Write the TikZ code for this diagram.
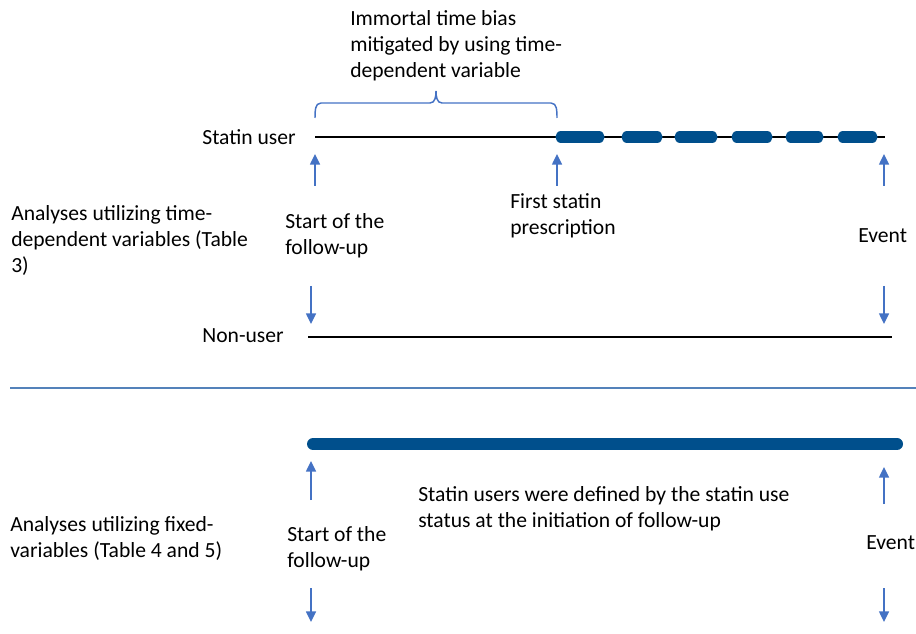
\documentclass[tikz,border=0pt]{standalone}
\usepackage{fontspec}
\setmainfont{Carlito}
\usetikzlibrary{arrows.meta}
\definecolor{barblue}{RGB}{0,79,140}
\definecolor{arrblue}{RGB}{68,114,196}
\definecolor{sepblue}{RGB}{84,130,186}
\begin{document}
\begin{tikzpicture}[x=0.75pt,y=-0.75pt,
  lbl/.style={inner sep=0pt,align=left,font=\fontsize{16.2}{19.5}\selectfont},
  tline/.style={line width=2pt,black},
  dashbar/.style={line width=8.4pt,barblue,line cap=round},
  upar/.style={arrblue,line width=1.1pt,-{Triangle[width=7.5pt,length=8pt]}},
  brc/.style={arrblue,line width=1.1pt}]
\useasboundingbox (0,0) rectangle (916,634);
% top section
\node[lbl,anchor=west] (imm) at (350,46) {Immortal time bias\\mitigated by using time-\\dependent variable};
\node[lbl,anchor=east] (su) at (296,137) {Statin user};
\coordinate (s0) at (315,137);
\coordinate (s1) at (885,137);
\draw[tline] (s0) -- (s1);
\foreach \a/\b in {556/604,622/662,675/717,732/772,786/823,838/877}
  \draw[dashbar] (\a+5,137) -- (\b-5,137);
% brace
\draw[brc] (315,118) to[out=90,in=180] (321,103) -- (430,103) to[out=0,in=-90] (436,91)
  to[out=-90,in=180] (442,103) -- (551,103) to[out=0,in=90] (557,118);
% up arrows
\coordinate (a1s) at (315,186); \coordinate (a1e) at (315,154);
\coordinate (a2s) at (557,186); \coordinate (a2e) at (557,154);
\coordinate (a3s) at (884,186); \coordinate (a3e) at (884,154);
\draw[upar] (a1s) -- (a1e);
\draw[upar] (a2s) -- (a2e);
\draw[upar] (a3s) -- (a3e);
\node[lbl,anchor=west] (sf1) at (285,236) {Start of the\\follow-up};
\node[lbl,anchor=west] (fsp) at (510,216) {First statin\\prescription};
\node[lbl,anchor=west] (ev1) at (858,236) {Event};
\node[lbl,anchor=west] (an1) at (11,240) {Analyses utilizing time-\\dependent variables (Table\\3)};
% down arrows
\coordinate (d1s) at (311,286); \coordinate (d1e) at (311,324);
\coordinate (d2s) at (884,286); \coordinate (d2e) at (884,324);
\draw[upar] (d1s) -- (d1e);
\draw[upar] (d2s) -- (d2e);
\node[lbl,anchor=east] (nu) at (284,336) {Non-user};
\coordinate (n0) at (308,337);
\coordinate (n1) at (892,337);
\draw[tline] (n0) -- (n1);
% separator
\coordinate (sep0) at (10,388);
\coordinate (sep1) at (916,388);
\draw[sepblue,line width=1.6pt] (sep0) -- (sep1);
% bottom section
\coordinate (b0) at (313,444);
\coordinate (b1) at (897,444);
\draw[barblue,line width=9pt,line cap=round] (b0) -- (b1);
\coordinate (u1s) at (311,500); \coordinate (u1e) at (311,461);
\coordinate (u2s) at (884,504); \coordinate (u2e) at (884,467);
\draw[upar] (u1s) -- (u1e);
\draw[upar] (u2s) -- (u2e);
\node[lbl,anchor=west] (sud) at (418,509) {Statin users were defined by the statin use\\status at the initiation of follow-up};
\node[lbl,anchor=west] (an2) at (10,538) {Analyses utilizing fixed-\\variables (Table 4 and 5)};
\node[lbl,anchor=west] (sf2) at (287,549) {Start of the\\follow-up};
\node[lbl,anchor=west] (ev2) at (866,543) {Event};
\coordinate (e1s) at (311,588); \coordinate (e1e) at (311,622);
\coordinate (e2s) at (884,588); \coordinate (e2e) at (884,622);
\draw[upar] (e1s) -- (e1e);
\draw[upar] (e2s) -- (e2e);
\end{tikzpicture}
\end{document}
